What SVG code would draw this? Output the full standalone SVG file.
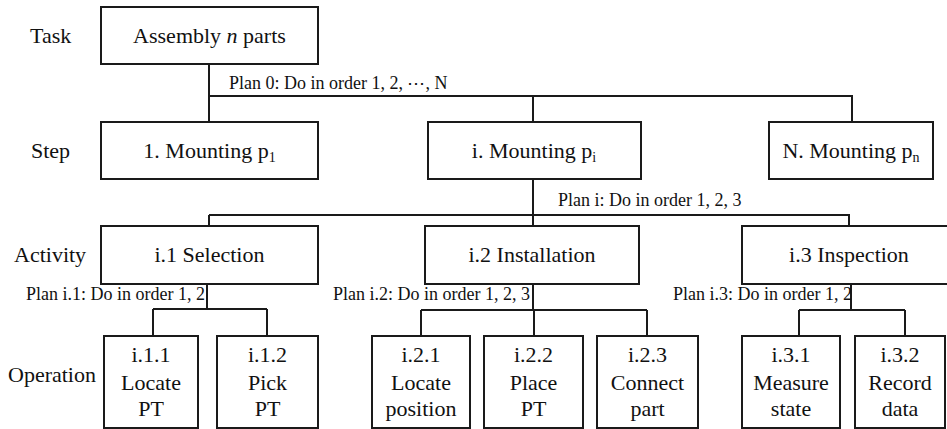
<svg xmlns="http://www.w3.org/2000/svg" width="947" height="429" viewBox="0 0 947 429" font-family="Liberation Serif, Times New Roman, DejaVu Serif, serif">
<style>
.box{fill:#fff;stroke:#1a1a1a;stroke-width:2}
.ln{fill:none;stroke:#1a1a1a;stroke-width:2}
text{font-family:'Liberation Serif','Times New Roman','DejaVu Serif',serif;fill:#111}
.t{font-size:22px;text-anchor:middle}
.lab{font-size:22px}
.plan{font-size:18px}
.sub{font-size:14px}
</style>
<rect width="947" height="429" fill="#fff"/>
<g id="connectors">
<path class="ln" d="M209 64V122M209 96H852V122M533 96V122"/>
<path class="ln" d="M533 179V226M209 215H849V226M209 215V226"/>
<path class="ln" d="M207 284V309M153 309H267M153 309V336M267 309V336"/>
<path class="ln" d="M533 284V310M421 310H647M421 310V336M534 310V336M647 310V336"/>
<path class="ln" d="M851 284V310M799 310H905M799 310V336M905 310V336"/>
</g>
<g id="levels">
<text class="lab" x="30" y="43">Task</text>
<text class="lab" x="31" y="158">Step</text>
<text class="lab" x="14" y="262">Activity</text>
<text class="lab" x="8" y="382">Operation</text>
</g>
<g id="plans">
<text class="plan" x="229" y="89">Plan 0: Do in order 1, 2, ⋯, N</text>
<text class="plan" x="558" y="206">Plan i: Do in order 1, 2, 3</text>
<text class="plan" x="26" y="300">Plan i.1: Do in order 1, 2</text>
<text class="plan" x="333" y="300">Plan i.2: Do in order 1, 2, 3</text>
<text class="plan" x="673" y="300">Plan i.3: Do in order 1, 2</text>
</g>
<g id="task">
<rect class="box" x="101" y="7" width="217" height="57"/>
<text class="t" x="209.5" y="43">Assembly <tspan font-style="italic">n</tspan> parts</text>
</g>
<g id="step1">
<rect class="box" x="101" y="122" width="217" height="57"/>
<text class="t" x="209.5" y="158">1. Mounting p<tspan class="sub" dy="4">1</tspan></text>
</g>
<g id="stepi">
<rect class="box" x="428" y="122" width="213" height="57"/>
<text class="t" x="534" y="158">i. Mounting p<tspan class="sub" dy="4">i</tspan></text>
</g>
<g id="stepN">
<rect class="box" x="769" y="122" width="164" height="57"/>
<text class="t" x="851" y="158">N. Mounting p<tspan class="sub" dy="4">n</tspan></text>
</g>
<g id="act1">
<rect class="box" x="101" y="226" width="217" height="58"/>
<text class="t" x="209.5" y="262">i.1 Selection</text>
</g>
<g id="act2">
<rect class="box" x="425" y="226" width="214" height="58"/>
<text class="t" x="532" y="262">i.2 Installation</text>
</g>
<g id="act3">
<rect class="box" x="742" y="226" width="210" height="58"/>
<text class="t" x="849" y="262">i.3 Inspection</text>
</g>
<g id="op111">
<rect class="box" x="104" y="336" width="94" height="92"/>
<text class="t" x="151" y="362">i.1.1</text><text class="t" x="151" y="390">Locate</text><text class="t" x="151" y="416">PT</text>
</g>
<g id="op112">
<rect class="box" x="217" y="336" width="101" height="92"/>
<text class="t" x="267.5" y="362">i.1.2</text><text class="t" x="267.5" y="390">Pick</text><text class="t" x="267.5" y="416">PT</text>
</g>
<g id="op121">
<rect class="box" x="372" y="336" width="98" height="92"/>
<text class="t" x="421" y="362">i.2.1</text><text class="t" x="421" y="390">Locate</text><text class="t" x="421" y="416">position</text>
</g>
<g id="op122">
<rect class="box" x="484" y="336" width="99" height="92"/>
<text class="t" x="533.5" y="362">i.2.2</text><text class="t" x="533.5" y="390">Place</text><text class="t" x="533.5" y="416">PT</text>
</g>
<g id="op123">
<rect class="box" x="597" y="336" width="101" height="92"/>
<text class="t" x="647.5" y="362">i.2.3</text><text class="t" x="647.5" y="390">Connect</text><text class="t" x="647.5" y="416">part</text>
</g>
<g id="op131">
<rect class="box" x="742" y="336" width="98" height="92"/>
<text class="t" x="791" y="362">i.3.1</text><text class="t" x="791" y="390">Measure</text><text class="t" x="791" y="416">state</text>
</g>
<g id="op132">
<rect class="box" x="855" y="336" width="90" height="92"/>
<text class="t" x="900" y="362">i.3.2</text><text class="t" x="900" y="390">Record</text><text class="t" x="900" y="416">data</text>
</g>
</svg>
